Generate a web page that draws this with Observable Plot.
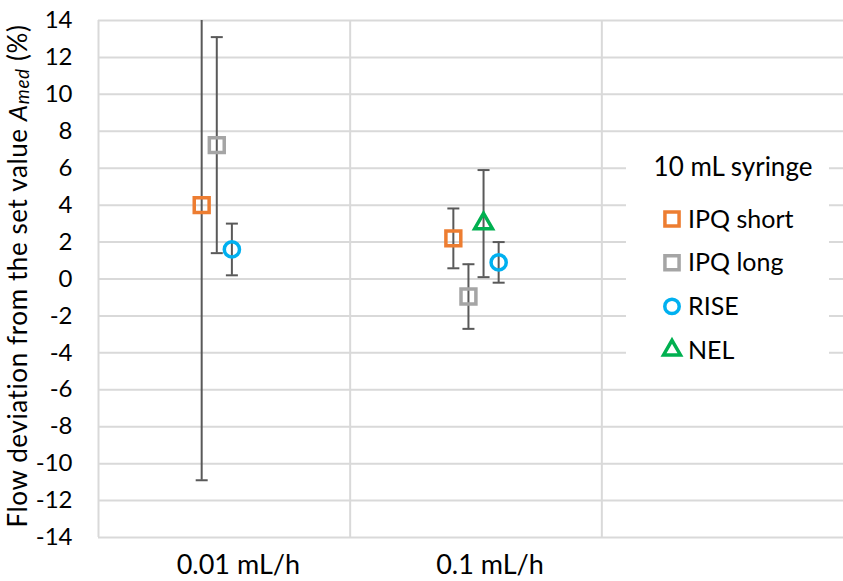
<!DOCTYPE html>
<html>
<head>
<meta charset="utf-8">
<script src="https://cdn.jsdelivr.net/npm/d3@7"></script>
<script src="https://cdn.jsdelivr.net/npm/@observablehq/plot@0.6"></script>
<style>
  html, body { margin: 0; padding: 0; background: #fff; }
  #wrap { position: relative; width: 843px; height: 581px; overflow: hidden; font-family: Lato, "Open Sans", sans-serif; }
  #legend { position: absolute; left: 626px; top: 146px; width: 203px; height: 228px; background: #fff; }
</style>
</head>
<body>
<div id="wrap"></div>
<script>
// ---- data ----
const categories = ["0.01 mL/h", "0.1 mL/h", ""];
const seriesNames = ["IPQ short", "IPQ long", "NEL", "RISE"];   // plotting order within a category
const legendOrder = ["IPQ short", "IPQ long", "RISE", "NEL"];
const ipqShortMean = [4.0, 2.2];
const ipqShortErr  = [14.9, 1.62];
const ipqLongMean  = [7.25, -0.95];
const ipqLongErr   = [5.85, 1.75];
const riseMean     = [1.6, 0.9];
const riseErr      = [1.4, 1.1];
const nelMean      = [null, 3.0];
const nelErr       = [null, 2.9];
const yTicks = [-14, -12, -10, -8, -6, -4, -2, 0, 2, 4, 6, 8, 10, 12, 14];
const seriesColors = ["#ED7D31", "#A5A5A5", "#00B050", "#00B0F0"];
const seriesSymbols = ["square", "square", "triangle", "circle"];
const legendTitle = "10 mL syringe";

// ---- build table ----
const means = {"IPQ short": ipqShortMean, "IPQ long": ipqLongMean, "NEL": nelMean, "RISE": riseMean};
const errs  = {"IPQ short": ipqShortErr,  "IPQ long": ipqLongErr,  "NEL": nelErr,  "RISE": riseErr};
const step = 0.06; // spacing between series inside a category (fraction of a category)
const rows = [];
categories.forEach((cat, ci) => {
  let slot = 0;
  seriesNames.forEach(s => {
    const m = means[s][ci];
    if (m == null) return;
    rows.push({cat, ci, series: s, mean: m, err: errs[s][ci], pos: ci + 0.5 + (slot - 1.5) * step});
    slot++;
  });
});
const caps = rows.flatMap(d => [{...d, yv: d.mean - d.err}, {...d, yv: d.mean + d.err}]);
const capSymbol = { draw(ctx) { ctx.moveTo(-6, 0); ctx.lineTo(6, 0); } };
const symbolSize = { square: 8.4, circle: 7.6, triangle: 6.6 };

const plot = Plot.plot({
  width: 843,
  height: 581,
  marginLeft: 98,
  marginRight: -10,
  marginTop: 20,
  marginBottom: 44,
  style: { fontFamily: "Lato, 'Open Sans', sans-serif", color: "#000", background: "#fff", overflow: "visible" },
  x: { domain: [0, categories.length], axis: null },
  y: { domain: [-14, 14], axis: null },
  color: { domain: seriesNames, range: seriesColors },
  marks: [
    Plot.gridY(yTicks, { stroke: "#d9d9d9", strokeOpacity: 1, strokeWidth: 2 }),
    Plot.gridX(d3.range(0, categories.length + 1), { stroke: "#d9d9d9", strokeOpacity: 1, strokeWidth: 2 }),
    Plot.axisY(yTicks, { tickSize: 0, tickPadding: 26, fontSize: 24, label: null, tickFormat: d => String(d) }),
    Plot.axisX(categories.map((c, i) => i + 0.5).filter((v, i) => categories[i] !== ""), {
      tickSize: 0, tickPadding: 17, fontSize: 27, label: null, dx: 14,
      tickFormat: v => categories[Math.floor(v)]
    }),
    Plot.text(["Flow deviation from the set value Amed (%)"], {
      frameAnchor: "left", textAnchor: "middle", rotate: -90, dx: -80, dy: -3, fontSize: 26, className: "ytitle"
    }),
    Plot.ruleX(rows, { x: "pos", y1: d => d.mean - d.err, y2: d => d.mean + d.err, stroke: "#595959", strokeWidth: 2, clip: true }),
    Plot.dot(caps, { x: "pos", y: "yv", symbol: capSymbol, stroke: "#595959", strokeWidth: 2, clip: true }),
    Plot.dot(rows.filter(d => d.series.startsWith("IPQ")), { x: "pos", y: "mean", symbol: "square", r: symbolSize.square, stroke: "series", strokeWidth: 3.5, fill: "none" }),
    Plot.dot(rows.filter(d => d.series === "RISE"), { x: "pos", y: "mean", symbol: "circle", r: symbolSize.circle, stroke: "series", strokeWidth: 3.5, fill: "none" }),
    Plot.dot(rows.filter(d => d.series === "NEL"), { x: "pos", y: "mean", symbol: "triangle", r: symbolSize.triangle, stroke: "series", strokeWidth: 3.5, fill: "none" })
  ]
});

// italic A with "med" subscript in the y-axis title
d3.select(plot).selectAll(".ytitle text").each(function() {
  const t = d3.select(this).style("letter-spacing", "0.6px");
  t.text(null);
  t.append("tspan").text("Flow deviation from the set value ");
  t.append("tspan").attr("font-style", "italic").text("A");
  t.append("tspan").attr("font-style", "italic").attr("font-size", 19).attr("dy", 2).text("med");
  t.append("tspan").attr("dy", -2).text(" (%)");
});

const wrap = document.getElementById("wrap");
wrap.appendChild(plot);

// legend (overlay inside the empty third category)
const lg = d3.select(wrap).append("svg").attr("id", "legend").attr("width", 203).attr("height", 228)
  .style("font-family", "Lato, 'Open Sans', sans-serif");
lg.append("rect").attr("width", 203).attr("height", 228).attr("fill", "#fff");
lg.append("text").attr("x", 107).attr("y", 21).attr("text-anchor", "middle").attr("dy", "0.35em")
  .attr("font-size", 26).attr("fill", "#000").text(legendTitle);
legendOrder.forEach((s, i) => {
  const idx = seriesNames.indexOf(s);
  const cy = 73 + i * 43.7;
  const symName = seriesSymbols[idx];
  const sym = { square: d3.symbolSquare, circle: d3.symbolCircle, triangle: d3.symbolTriangle }[symName];
  const r = symbolSize[symName] * 0.95;
  lg.append("path")
    .attr("transform", `translate(46,${cy})`)
    .attr("d", d3.symbol(sym, Math.PI * r * r)())
    .attr("fill", "none").attr("stroke", seriesColors[idx]).attr("stroke-width", 3.5);
  lg.append("text").attr("x", 62).attr("y", cy).attr("dy", "0.35em")
    .attr("font-size", 25).attr("fill", "#000").text(s);
});
</script>
</body>
</html>
